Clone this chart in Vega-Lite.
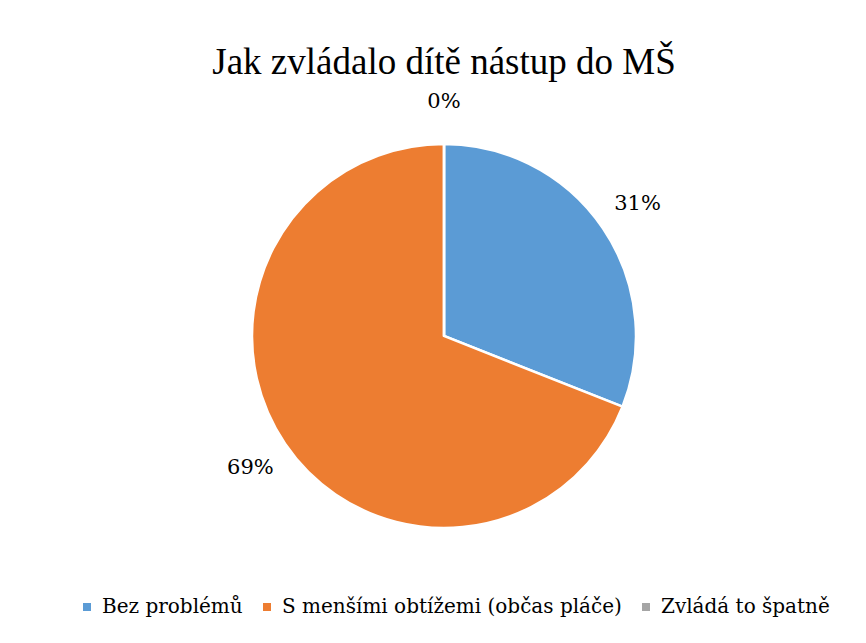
{
  "$schema": "https://vega.github.io/schema/vega-lite/v6.json",
  "autosize": {"type": "none"},
  "padding": {"left": 7, "top": 16, "right": 0, "bottom": 0},
  "width": 874,
  "height": 640,
  "background": "white",
  "title": {
    "text": "Jak zvládalo dítě nástup do MŠ",
    "font": "Liberation Serif",
    "fontSize": 37,
    "fontWeight": "normal",
    "color": "#000000",
    "anchor": "middle",
    "offset": -66
  },
  "data": {
    "values": [
      {"kategorie": "Bez problémů", "podil": 0.31},
      {"kategorie": "S menšími obtížemi (občas pláče)", "podil": 0.69},
      {"kategorie": "Zvládá to špatně", "podil": 0.0}
    ]
  },
  "encoding": {
    "theta": {"field": "podil", "type": "quantitative", "stack": true}
  },
  "layer": [
    {
      "mark": {"type": "arc", "outerRadius": 192, "stroke": "white", "strokeWidth": 2.5},
      "encoding": {
        "color": {
          "field": "kategorie",
          "type": "nominal",
          "scale": {
            "domain": ["Bez problémů", "S menšími obtížemi (občas pláče)", "Zvládá to špatně"],
            "range": ["#5b9bd5", "#ed7d31", "#a5a5a5"]
          },
          "legend": {
            "orient": "none",
            "legendX": 70,
            "legendY": 581,
            "direction": "horizontal",
            "title": null,
            "labelFont": "DejaVu Serif",
            "labelFontSize": 20,
            "labelColor": "#000000",
            "symbolType": "square",
            "symbolSize": 64,
            "symbolStrokeWidth": 0,
            "labelLimit": 600,
            "columnPadding": 14,
            "labelOffset": 5
          }
        }
      }
    },
    {
      "mark": {"type": "text", "radius": 234, "font": "DejaVu Serif", "fontSize": 21, "color": "#000000", "align": "center", "baseline": "middle"},
      "encoding": {
        "detail": {"field": "kategorie", "type": "nominal"},
        "text": {"field": "podil", "type": "quantitative", "format": ".0%"}
      }
    }
  ],
  "config": {
    "view": {"stroke": "#d9d9d9", "strokeWidth": 1.5}
  }
}
